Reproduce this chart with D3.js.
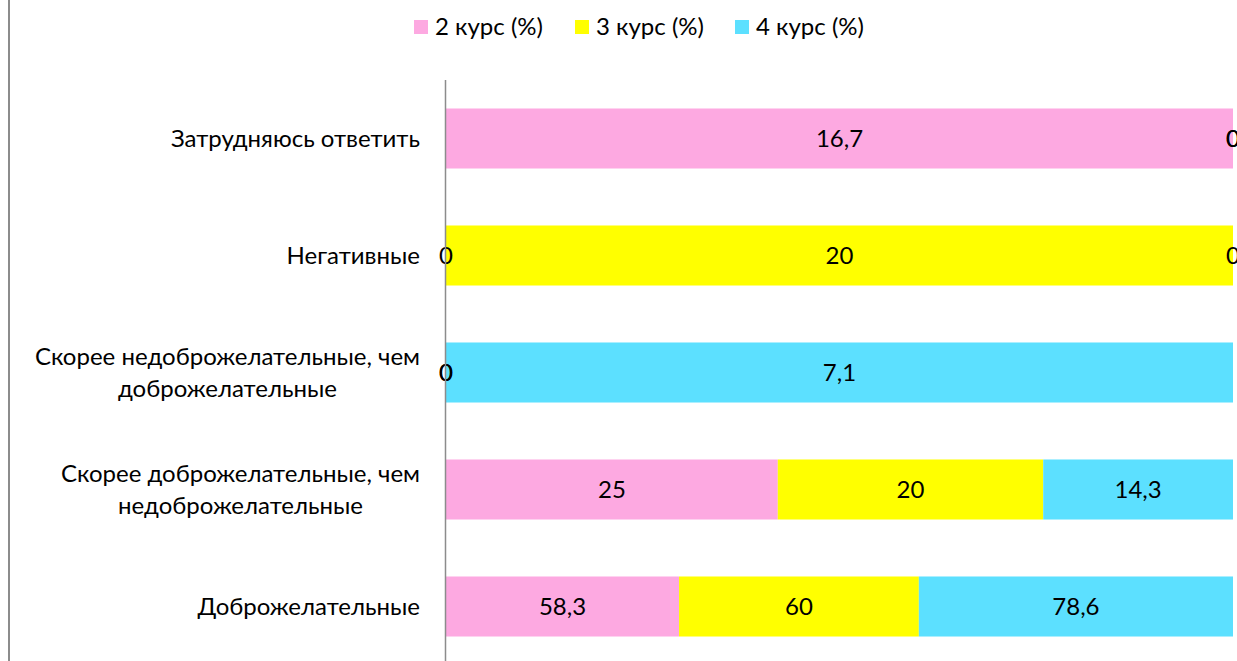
<!DOCTYPE html>
<html>
<head>
<meta charset="utf-8">
<script src="https://cdn.jsdelivr.net/npm/d3@7"></script>
<style>
  body { margin: 0; background: #fff; overflow: hidden; }
  text { font-family: Lato, "Open Sans", sans-serif; fill: #000; }
</style>
</head>
<body>
<div id="chartContainer"></div>
<script>
// categories from bottom to top
const categories = [
  "Доброжелательные",
  "Скорее доброжелательные, чем недоброжелательные",
  "Скорее недоброжелательные, чем доброжелательные",
  "Негативные",
  "Затрудняюсь ответить"
];
const categoryLines = [
  ["Доброжелательные"],
  ["Скорее доброжелательные, чем", "недоброжелательные"],
  ["Скорее недоброжелательные, чем", "доброжелательные"],
  ["Негативные"],
  ["Затрудняюсь ответить"]
];
const seriesNames = ["2 курс (%)", "3 курс (%)", "4 курс (%)"];
const course2 = [58.3, 25, 0, 0, 16.7];
const course3 = [60, 20, 0, 20, 0];
const course4 = [78.6, 14.3, 7.1, 0, 0];
const seriesColors = ["#fda9e1", "#ffff00", "#5ce0ff"];

const chartWidth = 1237;
const chartHeight = 661;
const fontSize = 24;

const svg = d3.select("#chartContainer").append("svg")
  .attr("width", chartWidth)
  .attr("height", chartHeight);

// chart frame (left edge visible)
svg.append("line")
  .attr("x1", 9).attr("x2", 9)
  .attr("y1", 0).attr("y2", chartHeight)
  .style("stroke", "#8c8c8c")
  .style("stroke-width", 2);

const rows = categories.map((c, i) => {
  const vals = [course2[i], course3[i], course4[i]];
  const total = d3.sum(vals);
  let acc = 0;
  const segs = vals.map((v, k) => {
    const s = { key: k, value: v, x0: acc / total, x1: (acc + v) / total };
    acc += v;
    return s;
  });
  return { category: c, lines: categoryLines[i], segs: segs };
});

const xScale = d3.scaleLinear()
  .domain([0, 1])
  .range([446, 1233]);

// top-to-bottom order on screen: last category on top
const yScale = d3.scaleBand()
  .domain(categories.slice().reverse())
  .range([80, 665])
  .paddingInner(0.487)
  .paddingOuter(0.2435);

const rowG = svg.selectAll(".row")
  .data(rows)
  .enter().append("g")
  .attr("class", "row");

rowG.selectAll("rect")
  .data(d => d.segs.map(s => Object.assign({ category: d.category }, s)))
  .enter().append("rect")
  .attr("x", d => xScale(d.x0))
  .attr("width", d => xScale(d.x1) - xScale(d.x0))
  .attr("y", d => yScale(d.category))
  .attr("height", yScale.bandwidth())
  .style("fill", d => seriesColors[d.key]);

// y axis line
svg.append("line")
  .attr("x1", 445.5).attr("x2", 445.5)
  .attr("y1", 80).attr("y2", chartHeight)
  .style("stroke", "#8c8c8c")
  .style("stroke-width", 1.5);

// data labels
rowG.selectAll(".val")
  .data(d => d.segs.map(s => Object.assign({ category: d.category }, s)))
  .enter().append("text")
  .attr("class", "val")
  .attr("x", d => xScale((d.x0 + d.x1) / 2))
  .attr("y", d => yScale(d.category) + yScale.bandwidth() / 2)
  .attr("dy", "0.35em")
  .attr("text-anchor", "middle")
  .style("font-size", fontSize + "px")
  .text(d => String(d.value).replace(".", ","));

// category labels
const lineH = 32;
rowG.each(function(d) {
  const cy = yScale(d.category) + yScale.bandwidth() / 2;
  const n = d.lines.length;
  const t = d3.select(this).append("text")
    .style("font-size", fontSize + "px")
    .attr("text-anchor", n > 1 ? "middle" : "end");
  d.lines.forEach((ln, j) => {
    t.append("tspan")
      .attr("y", cy + (j - (n - 1) / 2) * lineH)
      .attr("dy", "0.35em")
      .text(ln);
  });
  if (n > 1) {
    // centre the lines on the widest one, right-aligned block
    let maxW = 0;
    t.selectAll("tspan").each(function() {
      maxW = Math.max(maxW, this.getComputedTextLength());
    });
    t.selectAll("tspan").attr("x", 420 - maxW / 2);
  } else {
    t.selectAll("tspan").attr("x", 420);
  }
});

// legend
const legendX = [414, 575, 735];
const legend = svg.selectAll(".legend")
  .data(seriesNames)
  .enter().append("g")
  .attr("class", "legend")
  .attr("transform", (d, i) => `translate(${legendX[i]}, 20)`);

legend.append("rect")
  .attr("width", 14)
  .attr("height", 14)
  .style("fill", (d, i) => seriesColors[i]);

legend.append("text")
  .attr("x", 21)
  .attr("y", 7)
  .attr("dy", "0.35em")
  .style("font-size", fontSize + "px")
  .text(d => d);
</script>
</body>
</html>
